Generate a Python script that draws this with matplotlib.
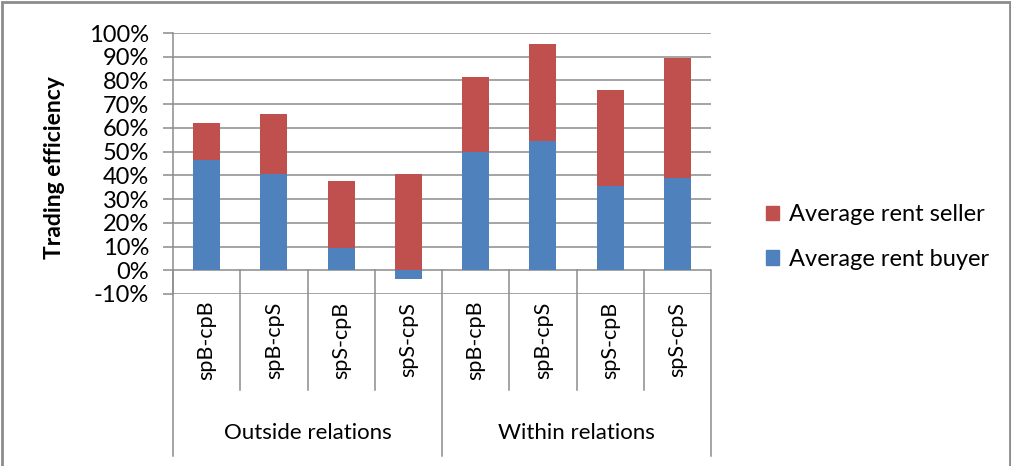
import matplotlib.pyplot as plt
import matplotlib.patches as mpatches
import matplotlib.transforms as mtransforms
import numpy as np

# Stacked trading efficiency per treatment
categories = ["spB-cpB", "spB-cpS", "spS-cpB", "spS-cpS",
              "spB-cpB", "spB-cpS", "spS-cpB", "spS-cpS"]
groups = ["Outside relations", "Within relations"]
rent_buyer = [0.464, 0.406, 0.092, -0.036, 0.500, 0.544, 0.357, 0.388]
rent_seller = [0.155, 0.252, 0.286, 0.405, 0.314, 0.410, 0.402, 0.507]
yticks = np.arange(-0.1, 1.0001, 0.1)

blue = "#4F81BD"
red = "#C0504D"
grid_col = "#8C8C8C"
font = "Lato"

W, H = 1011, 466
fig = plt.figure(figsize=(W / 100, H / 100), dpi=100)
ax = fig.add_axes([173 / W, 1 - 294 / H, (711 - 173) / W, (294 - 33) / H])

x = np.arange(len(categories))
buyer = np.array(rent_buyer)
seller = np.array(rent_seller)
ax.bar(x, buyer, width=0.4, color=blue, zorder=3)
# positive parts stack on positives, as in a spreadsheet stacked column
ax.bar(x, seller, width=0.4, bottom=np.maximum(buyer, 0), color=red, zorder=3)

ymin, ymax = -0.1, 1.0
ax.set_xlim(-0.5, len(categories) - 0.5)
ax.set_ylim(ymin, ymax)
ax.set_yticks(yticks)
ax.set_yticklabels([f"{round(v * 100)}%" for v in yticks], fontsize=17, family=font)
ax.yaxis.grid(True, color=grid_col, lw=1.1, zorder=0)
ax.tick_params(axis="y", length=7.2, width=1.1, color=grid_col, pad=10)
ax.set_xticks([])
for side in ["top", "right", "bottom"]:
    ax.spines[side].set_visible(False)
ax.spines["left"].set_color(grid_col)
ax.spines["left"].set_linewidth(1.1)
ax.set_ylabel("Trading efficiency", fontsize=16.5, fontweight="bold", family=font)
ax.yaxis.set_label_coords(-(173 - 65) / (711 - 173), (294 - 168) / (294 - 33))

# category axis table below the plot
trans = mtransforms.blended_transform_factory(ax.transData, ax.transAxes)
y0 = (0 - ymin) / (ymax - ymin)
y_inner = -(390 - 294) / (294 - 33)
y_outer = -(456 - 294) / (294 - 33)
for b in np.arange(-0.5, len(categories), 1.0):
    bottom = y_outer if b in (-0.5, 3.5, 7.5) else y_inner
    ax.plot([b, b], [y0, bottom], transform=trans, color=grid_col, lw=1.1, clip_on=False)
for i, lab in enumerate(categories):
    ax.text(i, -(340 - 294) / (294 - 33), lab, transform=trans, rotation=90,
            ha="center", va="center", fontsize=15.5, family=font)
for g, lab in enumerate(groups):
    ax.text(1.5 + 4 * g, -(433 - 294) / (294 - 33), lab, transform=trans,
            ha="center", va="center", fontsize=16, family=font)

handles = [mpatches.Patch(color=red, label="Average rent seller"),
           mpatches.Patch(color=blue, label="Average rent buyer")]
fig.legend(handles=handles, loc="center left", bbox_to_anchor=(745 / W, 1 - 237 / H),
           frameon=False, handlelength=0.55, handleheight=0.55, handletextpad=0.4,
           labelspacing=1.0, prop={"family": font, "size": 17})

# chart frame
fig.add_artist(mpatches.Rectangle((1.5 / W, -0.02), (W - 3) / W, 1.02 - 2 / H,
                                  transform=fig.transFigure, fill=False,
                                  edgecolor="#8C8C8C", lw=2))

fig.savefig("out.png", dpi=100)
